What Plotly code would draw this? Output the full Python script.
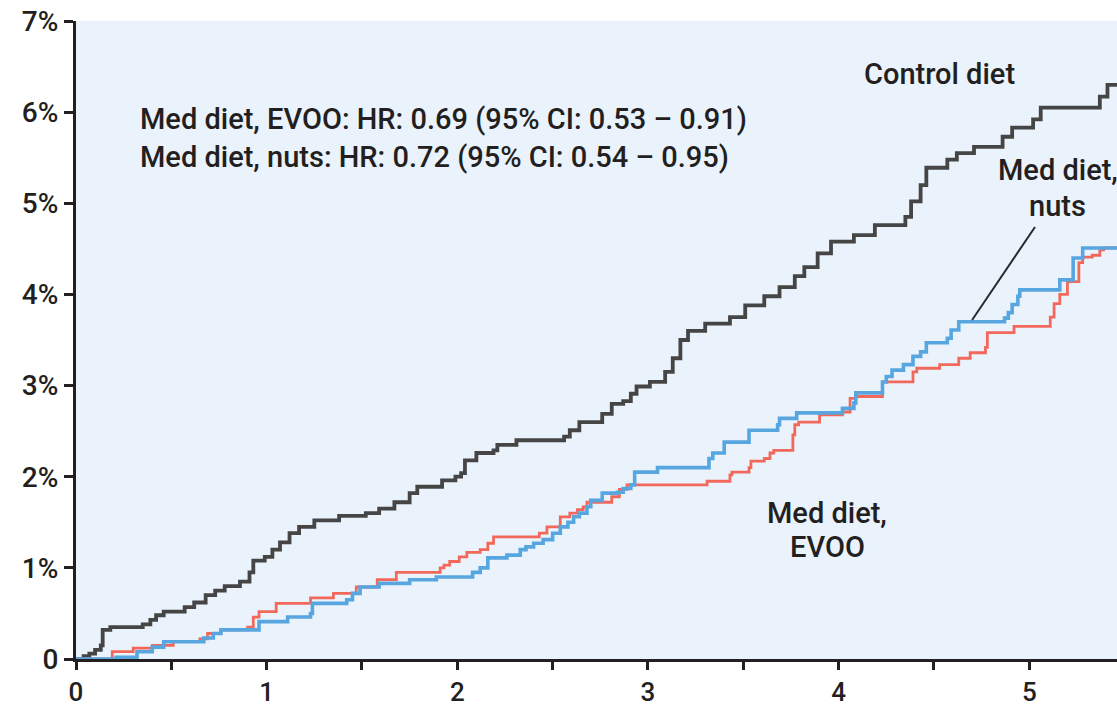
import plotly.graph_objects as go

# Control diet (years, cumulative incidence %)
ctrl_t = [0, 0.04, 0.07, 0.10, 0.13, 0.14, 0.18, 0.35, 0.39, 0.42, 0.46, 0.57, 0.62, 0.68, 0.73, 0.78,
          0.86, 0.91, 0.93, 0.99, 1.03, 1.07, 1.12, 1.17, 1.25, 1.38, 1.52, 1.59, 1.67, 1.75, 1.79, 1.92,
          1.99, 2.02, 2.04, 2.10, 2.19, 2.21, 2.31, 2.56, 2.59, 2.64, 2.76, 2.81, 2.87, 2.91, 2.94, 3.01,
          3.09, 3.13, 3.17, 3.21, 3.30, 3.43, 3.51, 3.61, 3.69, 3.77, 3.82, 3.89, 3.96, 4.08, 4.19, 4.35,
          4.38, 4.43, 4.46, 4.57, 4.62, 4.71, 4.86, 4.91, 5.02, 5.06, 5.37, 5.41, 5.46]
ctrl_y = [0, 0.03, 0.06, 0.10, 0.15, 0.32, 0.35, 0.38, 0.43, 0.48, 0.52, 0.57, 0.62, 0.70, 0.75, 0.80,
          0.85, 0.95, 1.08, 1.12, 1.20, 1.28, 1.38, 1.45, 1.52, 1.57, 1.60, 1.65, 1.72, 1.82, 1.89, 1.96,
          2.00, 2.04, 2.18, 2.26, 2.29, 2.35, 2.40, 2.44, 2.51, 2.60, 2.69, 2.80, 2.83, 2.91, 2.99, 3.04,
          3.15, 3.30, 3.50, 3.60, 3.68, 3.75, 3.88, 3.98, 4.08, 4.20, 4.30, 4.45, 4.58, 4.65, 4.76, 4.85,
          5.02, 5.20, 5.39, 5.48, 5.55, 5.62, 5.73, 5.83, 5.92, 6.05, 6.17, 6.30, 6.30]

# Med diet, nuts
nuts_t = [0, 0.21, 0.32, 0.40, 0.46, 0.67, 0.72, 0.76, 0.96, 1.11, 1.23, 1.24, 1.42, 1.45, 1.49, 1.59,
          1.75, 1.89, 2.08, 2.12, 2.16, 2.26, 2.33, 2.36, 2.40, 2.45, 2.50, 2.54, 2.58, 2.61, 2.64, 2.68,
          2.70, 2.76, 2.84, 2.87, 2.91, 2.93, 3.05, 3.32, 3.34, 3.40, 3.53, 3.68, 3.69, 3.78, 4.02, 4.08,
          4.09, 4.23, 4.25, 4.28, 4.34, 4.39, 4.43, 4.46, 4.57, 4.59, 4.63, 4.87, 4.89, 4.91, 4.94, 4.95,
          5.16, 5.23, 5.28, 5.46]
nuts_y = [0, 0.02, 0.08, 0.13, 0.19, 0.23, 0.28, 0.32, 0.41, 0.46, 0.50, 0.61, 0.65, 0.72, 0.79, 0.83,
          0.87, 0.90, 0.95, 1.00, 1.11, 1.14, 1.20, 1.23, 1.27, 1.31, 1.38, 1.45, 1.50, 1.56, 1.60, 1.67,
          1.74, 1.82, 1.83, 1.87, 1.91, 2.05, 2.10, 2.20, 2.26, 2.38, 2.51, 2.57, 2.64, 2.70, 2.75, 2.81,
          2.92, 3.04, 3.10, 3.17, 3.23, 3.32, 3.37, 3.47, 3.52, 3.61, 3.70, 3.74, 3.80, 3.89, 3.98, 4.05,
          4.16, 4.40, 4.51, 4.51]

# Med diet, EVOO
evoo_t = [0, 0.19, 0.30, 0.40, 0.51, 0.65, 0.69, 0.76, 0.90, 0.93, 0.96, 1.05, 1.23, 1.35, 1.47, 1.58,
          1.68, 1.91, 1.93, 1.96, 2.01, 2.05, 2.12, 2.16, 2.19, 2.43, 2.47, 2.54, 2.59, 2.63, 2.66, 2.68,
          2.81, 2.85, 2.89, 3.31, 3.43, 3.44, 3.53, 3.54, 3.61, 3.64, 3.66, 3.76, 3.77, 3.79, 3.90, 4.02,
          4.06, 4.09, 4.23, 4.39, 4.41, 4.53, 4.63, 4.69, 4.77, 4.78, 4.92, 5.11, 5.13, 5.16, 5.20, 5.26,
          5.28, 5.33, 5.37, 5.39, 5.46]
evoo_y = [0, 0.08, 0.12, 0.15, 0.19, 0.22, 0.28, 0.32, 0.35, 0.46, 0.52, 0.61, 0.67, 0.72, 0.79, 0.87,
          0.95, 1.00, 1.03, 1.07, 1.12, 1.17, 1.20, 1.27, 1.34, 1.38, 1.45, 1.56, 1.60, 1.64, 1.67, 1.72,
          1.78, 1.86, 1.91, 1.95, 2.02, 2.05, 2.10, 2.17, 2.20, 2.26, 2.29, 2.46, 2.57, 2.60, 2.68, 2.71,
          2.86, 2.88, 3.04, 3.15, 3.19, 3.23, 3.30, 3.36, 3.42, 3.58, 3.65, 3.75, 3.90, 4.00, 4.14, 4.35,
          4.41, 4.43, 4.49, 4.51, 4.51]

x_ticks = [0, 0.5, 1, 1.5, 2, 2.5, 3, 3.5, 4, 4.5, 5, 5.5]
x_labels = ["0", "", "1", "", "2", "", "3", "", "4", "", "5", ""]
y_ticks = [0, 1, 2, 3, 4, 5, 6, 7]
y_labels = ["0", "1%", "2%", "3%", "4%", "5%", "6%", "7%"]

FONT = "Roboto, Noto Sans, sans-serif"
TXT = "#231F20"

fig = go.Figure()
fig.add_trace(go.Scatter(x=ctrl_t, y=ctrl_y, mode="lines", line=dict(shape="hv", color="#454545", width=3.8),
                         name="Control diet"))
fig.add_trace(go.Scatter(x=evoo_t, y=evoo_y, mode="lines", line=dict(shape="hv", color="#F2695C", width=2.8),
                         name="Med diet, EVOO"))
fig.add_trace(go.Scatter(x=nuts_t, y=nuts_y, mode="lines", line=dict(shape="hv", color="#58A6DF", width=3.6),
                         name="Med diet, nuts"))

fig.add_shape(type="line", x0=4.70, y0=3.72, x1=5.03, y1=4.74, line=dict(color="#2a2a2a", width=2))

ann_font = dict(family=FONT, size=29, color=TXT, weight=500)
anns = [
    dict(x=0.325, y=5.92, text="Med diet, EVOO: HR: 0.69 (95% CI: 0.53 – 0.91)", xanchor="left"),
    dict(x=0.325, y=5.51, text="Med diet, nuts: HR: 0.72 (95% CI: 0.54 – 0.95)", xanchor="left"),
    dict(x=4.53, y=6.42, text="Control diet", xanchor="center"),
    dict(x=5.15, y=5.37, text="Med diet,", xanchor="center"),
    dict(x=5.15, y=4.97, text="nuts", xanchor="center"),
    dict(x=3.94, y=1.60, text="Med diet,", xanchor="center"),
    dict(x=3.94, y=1.23, text="EVOO", xanchor="center"),
]
for a in anns:
    fig.add_annotation(xref="x", yref="y", showarrow=False, yanchor="middle", font=ann_font, **a)

fig.update_layout(
    width=1117, height=707,
    margin=dict(l=76, r=0, t=21, b=48),
    paper_bgcolor="white", plot_bgcolor="#EAF2FB",
    showlegend=False,
    font=dict(family=FONT, size=29, color=TXT),
)
fig.update_xaxes(range=[0, 5.46], tickvals=x_ticks, ticktext=x_labels, ticks="outside", ticklen=8,
                 tickwidth=3, tickcolor=TXT, showline=True, linecolor=TXT, linewidth=3, showgrid=False,
                 zeroline=False, tickfont=dict(family=FONT, size=26, color=TXT, weight=500), automargin=False)
fig.update_yaxes(range=[0, 7], tickvals=y_ticks, ticktext=y_labels, ticks="outside", ticklen=9,
                 tickwidth=3, tickcolor=TXT, showline=True, linecolor=TXT, linewidth=3, showgrid=False,
                 zeroline=False, tickfont=dict(family=FONT, size=28, color=TXT, weight=500), automargin=False)

fig.write_html("out.html")
